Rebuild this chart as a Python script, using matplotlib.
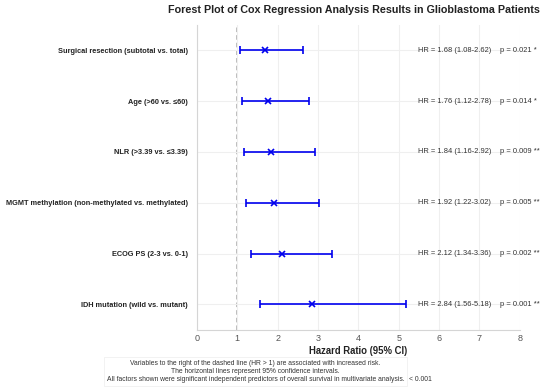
import matplotlib
matplotlib.use('Agg')
import matplotlib.pyplot as plt

plt.rcParams['font.family'] = ['Liberation Sans', 'DejaVu Sans']

# Cox regression results
factors = ["Surgical resection (subtotal vs. total)",
           "Age (>60 vs. \u226460)",
           "NLR (>3.39 vs. \u22643.39)",
           "MGMT methylation (non-methylated vs. methylated)",
           "ECOG PS (2-3 vs. 0-1)",
           "IDH mutation (wild vs. mutant)"]
hr = [1.68, 1.76, 1.84, 1.92, 2.12, 2.84]
ci_low = [1.08, 1.12, 1.16, 1.22, 1.34, 1.56]
ci_high = [2.62, 2.78, 2.92, 3.02, 3.36, 5.18]
p_values = ["0.021", "0.014", "0.009", "0.005", "0.002", "0.001"]
stars = ["*", "*", "**", "**", "**", "**"]

fig = plt.figure(figsize=(5.5, 3.89), dpi=100)
ax = fig.add_axes([0.358, 0.152, 0.587, 0.784])

ypos = list(range(len(factors)))

ax.grid(which='major', axis='both', color='#efefef', linewidth=0.8, zorder=0)
ax.axvline(1, color='#aaaaaa', linestyle=(0, (3, 2)), linewidth=1.1, zorder=1)

xerr = [[h - l for h, l in zip(hr, ci_low)], [u - h for h, u in zip(hr, ci_high)]]
ax.errorbar(hr, ypos, xerr=xerr, fmt='x', color='#0000ee', ecolor='#0000ee',
            elinewidth=1.2, capsize=3, capthick=1.2, markersize=5,
            markeredgewidth=1.2, zorder=3)

for i in ypos:
    ax.text(5.47, i, "HR = %.2f (%.2f-%.2f)" % (hr[i], ci_low[i], ci_high[i]),
            fontsize=5.4, color='#333333', va='center', ha='left', zorder=4)
    ax.text(7.5, i, "p = %s %s" % (p_values[i], stars[i]),
            fontsize=5.4, color='#333333', va='center', ha='left', zorder=4)

ax.set_yticks(ypos)
ax.set_yticklabels(factors, fontsize=5.35, fontweight='bold', color='#222222')
ax.set_ylim(5.5, -0.5)
ax.set_xlim(0, 8)
ax.set_xticks(range(0, 9))
ax.tick_params(axis='x', labelsize=6.5, colors='#555555', length=0, pad=3)
ax.tick_params(axis='y', length=0, pad=6.5)

for s in ['top', 'right']:
    ax.spines[s].set_visible(False)
for s in ['left', 'bottom']:
    ax.spines[s].set_color('#d5d5d5')

ax.set_xlabel('Hazard Ratio (95% CI)', fontsize=6.85, fontweight='bold', color='#222222', labelpad=2)

fig.text(0.643, 0.974, 'Forest Plot of Cox Regression Analysis Results in Glioblastoma Patients',
         fontsize=7.75, fontweight='bold', ha='center', va='center', color='#222222')

note = ("Variables to the right of the dashed line (HR > 1) are associated with increased risk.\n"
        "The horizontal lines represent 95% confidence intervals.\n"
        "All factors shown were significant independent predictors of overall survival in multivariate analysis.")
fig.text(0.4645, 0.045, note, fontsize=4.9, ha='center', va='center', color='#333333',
         linespacing=1.25,
         bbox=dict(boxstyle='square,pad=0.35', facecolor='white', edgecolor='#f0f0f0', linewidth=0.6))
fig.text(0.7436, 0.0257, "< 0.001", fontsize=4.9, ha='left', va='center', color='#333333')

plt.savefig('out.png', dpi=100)
